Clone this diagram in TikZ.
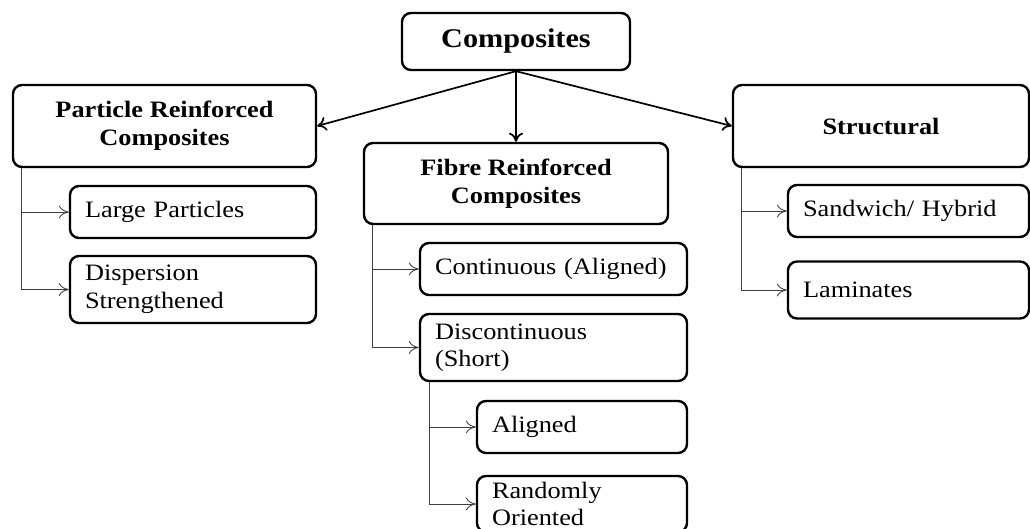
\documentclass[tikz,border=0pt]{standalone}
\usepackage{fontspec}
\setmainfont{Liberation Serif}[FakeStretch=1.12]
\usetikzlibrary{arrows.meta}
\tikzset{
  x=1pt, y={(0,-1pt)},
  box/.style={draw=black, line width=2.4pt, rounded corners=9pt, inner sep=0pt,
    font=\fontsize{23.5}{27.5}\selectfont},
  headbox/.style={box, align=center, font=\fontsize{23.5}{28}\selectfont\bfseries},
  leafbox/.style={box, align=left, inner xsep=15pt},
  mainarrow/.style={line width=1.7pt, -{To[length=9pt,width=14pt]}},
  subarrow/.style={line width=0.9pt, draw=black!75, -{To[length=10pt,width=13pt]}},
}
\begin{document}
\begin{tikzpicture}
\useasboundingbox (0,0) rectangle (1030,529);
\clip (0,0) rectangle (1030,529);

% top level
\node[headbox, minimum width=228pt, minimum height=57pt,
      font=\fontsize{27}{30}\selectfont\bfseries] (comp) at (516,41.5) {Composites};

% second level
\node[headbox, minimum width=303pt, minimum height=82pt] (part) at (164.5,126)
  {Particle Reinforced\\Composites};
\node[headbox, minimum width=304pt, minimum height=81pt] (fibre) at (516,183.5)
  {Fibre Reinforced\\Composites};
\node[headbox, minimum width=296pt, minimum height=82pt] (struct) at (881,126)
  {Structural};

% particle reinforced branch
\node[leafbox, text width=216pt, minimum height=52pt] (large) at (193,212)
  {Large Particles};
\node[leafbox, text width=216pt, minimum height=67pt] (disp) at (193,289.5)
  {Dispersion\\Strengthened};

% fibre reinforced branch
\node[leafbox, text width=237pt, minimum height=52pt] (cont) at (553.5,269)
  {Continuous (Aligned)};
\node[leafbox, text width=237pt, minimum height=67pt] (disc) at (553.5,347.5)
  {Discontinuous\\(Short)};
\node[leafbox, text width=180pt, minimum height=52pt] (alig) at (582,427)
  {Aligned};
\node[leafbox, text width=180pt, minimum height=56pt] (rand) at (582,504)
  {Randomly\\Oriented};

% structural branch
\node[leafbox, text width=211pt, minimum height=52pt] (sand) at (908.5,211)
  {Sandwich/ Hybrid};
\node[leafbox, text width=211pt, minimum height=57pt] (lam) at (908.5,290)
  {Laminates};

% main connectors
\draw[mainarrow] (comp.south) -- (part.east);
\draw[mainarrow] (comp.south) -- (fibre.north);
\draw[mainarrow] (comp.south) -- (struct.west);

% tree connectors
\draw[subarrow] ([xshift=10pt]part.south west) |- (large.west);
\draw[subarrow] ([xshift=10pt]part.south west) |- (disp.west);
\draw[subarrow] ([xshift=10pt]fibre.south west) |- (cont.west);
\draw[subarrow] ([xshift=10pt]fibre.south west) |- (disc.west);
\draw[subarrow] ([xshift=11pt]disc.south west) |- (alig.west);
\draw[subarrow] ([xshift=11pt]disc.south west) |- (rand.west);
\draw[subarrow] ([xshift=10pt]struct.south west) |- (sand.west);
\draw[subarrow] ([xshift=10pt]struct.south west) |- (lam.west);
\end{tikzpicture}
\end{document}
